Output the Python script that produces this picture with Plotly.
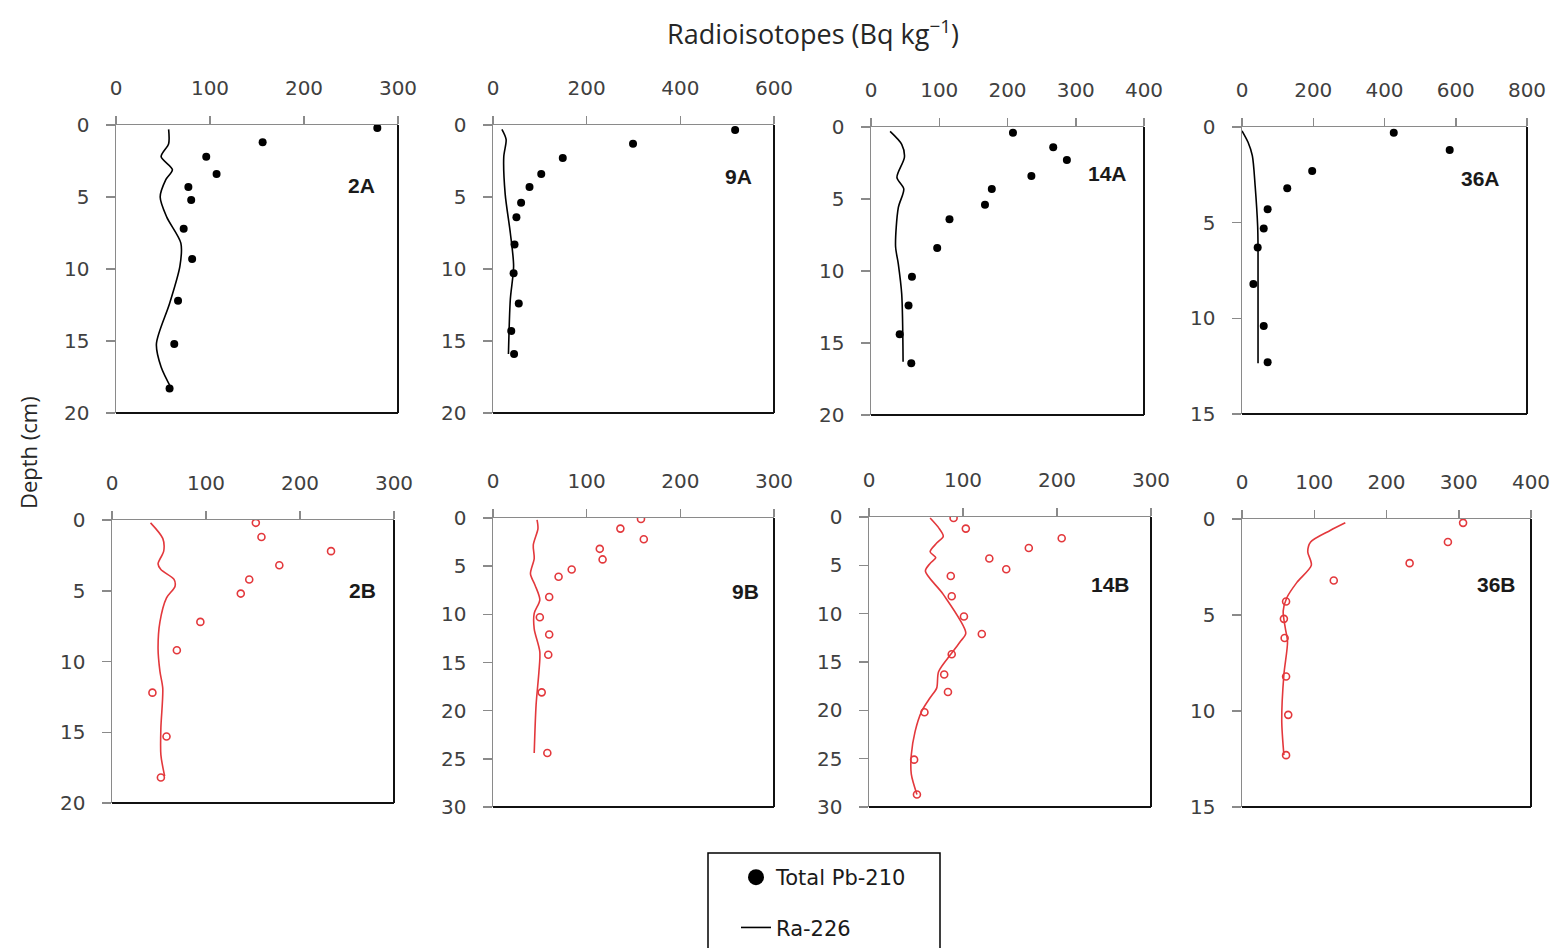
import plotly.graph_objects as go

# ---------------- data ----------------
panel_names = ["2A", "9A", "14A", "36A", "2B", "9B", "14B", "36B"]

x_max = [300, 600, 400, 800, 300, 300, 300, 400]
x_dtick = [100, 200, 100, 200, 100, 100, 100, 100]
depth_max = [20, 20, 20, 15, 20, 30, 30, 15]

# Total Pb-210
pb_2A_depth = [0.2, 1.2, 2.2, 3.4, 4.3, 5.2, 7.2, 9.3, 12.2, 15.2, 18.3]
pb_2A = [278, 156, 96, 107, 77, 80, 72, 81, 66, 62, 57]
pb_9A_depth = [0.35, 1.3, 2.3, 3.4, 4.3, 5.4, 6.4, 8.3, 10.3, 12.4, 14.3, 15.9]
pb_9A = [517, 299, 149, 103, 78, 60, 50, 46, 44, 55, 39, 45]
pb_14A_depth = [0.4, 1.4, 2.3, 3.4, 4.3, 5.4, 6.4, 8.4, 10.4, 12.4, 14.4, 16.4]
pb_14A = [208, 267, 287, 235, 177, 167, 115, 97, 60, 55, 42, 59]
pb_36A_depth = [0.3, 1.2, 2.3, 3.2, 4.3, 5.3, 6.3, 8.2, 10.4, 12.3]
pb_36A = [426, 583, 197, 127, 72, 61, 44, 32, 61, 72]
pb_2B_depth = [0.2, 1.2, 2.2, 3.2, 4.2, 5.2, 7.2, 9.2, 12.2, 15.3, 18.2]
pb_2B = [153, 159, 233, 178, 146, 137, 94, 69, 43, 58, 52]
pb_9B_depth = [0.1, 1.1, 2.2, 3.2, 4.3, 5.35, 6.1, 8.2, 10.3, 12.1, 14.2, 18.1, 24.4]
pb_9B = [158, 136, 161, 114, 117, 84, 70, 60, 50, 60, 59, 52, 58]
pb_14B_depth = [0.1, 1.2, 2.2, 3.2, 4.3, 5.4, 6.1, 8.2, 10.3, 12.1, 14.2, 16.3, 18.1, 20.2, 25.1, 28.7]
pb_14B = [90, 103, 205, 170, 128, 146, 87, 88, 101, 120, 88, 80, 84, 59, 48, 51]
pb_36B_depth = [0.2, 1.2, 2.3, 3.2, 4.3, 5.2, 6.2, 8.2, 10.2, 12.3]
pb_36B = [306, 285, 232, 127, 61, 58, 59, 61, 64, 61]

# Ra-226
ra_2A_depth = [0.3, 1.3, 2.2, 3.1, 3.8, 5.0, 6.4, 8.2, 9.8, 12.4, 15.2, 16.8, 18.3]
ra_2A = [56, 56, 48, 60, 53, 47, 54, 69, 68, 57, 43, 48, 59]
ra_9A_depth = [0.3, 1.0, 2.2, 4.8, 7.5, 9.8, 12.1, 15.9]
ra_9A = [19, 28, 23, 26, 37, 44, 37, 33]
ra_14A_depth = [0.3, 1.2, 2.1, 3.5, 4.3, 5.6, 8.3, 9.5, 11.6, 16.3]
ra_14A = [28, 45, 49, 38, 48, 40, 36, 40, 45, 47]
ra_36A_depth = [0.2, 0.8, 1.5, 3.1, 5.2, 6.3, 12.35]
ra_36A = [0, 17, 29, 37, 44, 45, 45]
ra_2B_depth = [0.2, 1.3, 2.2, 3.1, 3.5, 4.2, 4.7, 5.5, 7.2, 9.1, 10.7, 11.9, 14.7, 16.6, 18.1]
ra_2B = [41, 54, 55, 49, 52, 66, 67, 58, 51, 49, 51, 54, 52, 52, 56]
ra_9B_depth = [0.2, 1.1, 2.8, 4.2, 5.8, 7.0, 8.5, 9.9, 11.5, 13.9, 16.0, 19.4, 24.4]
ra_9B = [47, 48, 43, 44, 40, 45, 50, 44, 44, 50, 49, 46, 44]
ra_14B_depth = [0.1, 1.1, 2.0, 2.7, 3.6, 4.2, 4.8, 5.6, 8.0, 12.0, 12.9, 14.2, 16.0, 17.7, 18.7, 20.1, 22.2, 24.6, 26.6, 28.7]
ra_14B = [65, 74, 79, 72, 65, 71, 65, 60, 79, 103, 97, 87, 74, 72, 65, 56, 49, 45, 45, 51]
ra_36B_depth = [0.2, 0.6, 1.2, 1.7, 2.4, 3.3, 4.1, 4.8, 5.7, 6.4, 8.1, 10.5, 12.3]
ra_36B = [143, 122, 95, 91, 96, 76, 62, 57, 60, 63, 58, 55, 58]

pb_values = [pb_2A, pb_9A, pb_14A, pb_36A, pb_2B, pb_9B, pb_14B, pb_36B]
pb_depths = [pb_2A_depth, pb_9A_depth, pb_14A_depth, pb_36A_depth,
             pb_2B_depth, pb_9B_depth, pb_14B_depth, pb_36B_depth]
ra_values = [ra_2A, ra_9A, ra_14A, ra_36A, ra_2B, ra_9B, ra_14B, ra_36B]
ra_depths = [ra_2A_depth, ra_9A_depth, ra_14A_depth, ra_36A_depth,
             ra_2B_depth, ra_9B_depth, ra_14B_depth, ra_36B_depth]

# ---------------- layout geometry (pixels) ----------------
W, H = 1555, 948
panel_px = [  # x0, x1, y0(top), y1(bottom)
    (116, 398, 125, 413), (493, 774, 125, 413), (871, 1144, 127, 415), (1242, 1527, 127, 414),
    (112, 394, 520, 803), (493, 774, 518, 807), (869, 1151, 517, 807), (1242, 1531, 519, 807),
]
label_pos = [(0.872, 0.79), (0.875, 0.82), (0.868, 0.84), (0.838, 0.822),
             (0.887, 0.75), (0.897, 0.747), (0.855, 0.766), (0.879, 0.771)]

BLACK = "#000000"
RED = "#e3383c"
AXIS_GRAY = "#8a8a8a"
TICK_FONT = dict(family="DejaVu Sans", size=20, color="#404040")

fig = go.Figure()
layout = dict(
    width=W, height=H, margin=dict(l=0, r=0, t=0, b=0, autoexpand=False),
    paper_bgcolor="white", plot_bgcolor="white", showlegend=True,
)
annotations = []
shapes = []

for i in range(8):
    n = "" if i == 0 else str(i + 1)
    color = BLACK if i < 4 else RED
    x0, x1, y0, y1 = panel_px[i]
    layout["xaxis" + n] = dict(
        domain=[x0 / W, x1 / W], anchor="y" + n, side="top",
        range=[0, x_max[i]], dtick=x_dtick[i], tick0=0,
        showgrid=False, zeroline=False, showline=True,
        linecolor=AXIS_GRAY, linewidth=1.5,
        ticks="outside", ticklen=8, tickwidth=1.5, tickcolor=AXIS_GRAY,
        tickfont=TICK_FONT, ticklabelstandoff=13, fixedrange=True, automargin=False,
    )
    layout["yaxis" + n] = dict(
        domain=[1 - y1 / H, 1 - y0 / H], anchor="x" + n,
        range=[depth_max[i], 0], dtick=5, tick0=0,
        showgrid=False, zeroline=False, showline=True,
        linecolor=AXIS_GRAY, linewidth=1.5,
        ticks="outside", ticklen=9, tickwidth=1.5, tickcolor=AXIS_GRAY,
        tickfont=TICK_FONT, ticklabelstandoff=12, fixedrange=True, automargin=False,
    )
    # Ra-226 line
    fig.add_trace(go.Scatter(
        x=ra_values[i], y=ra_depths[i], mode="lines",
        line=dict(color=color, width=1.6, shape="spline", smoothing=0.8),
        xaxis="x" + n, yaxis="y" + n, showlegend=False, hoverinfo="skip",
    ))
    # Total Pb-210 points
    if i < 4:
        marker = dict(symbol="circle", size=8, color=BLACK)
    else:
        marker = dict(symbol="circle-open", size=7, color=RED, line=dict(width=1.6, color=RED))
    fig.add_trace(go.Scatter(
        x=pb_values[i], y=pb_depths[i], mode="markers", marker=marker,
        xaxis="x" + n, yaxis="y" + n, showlegend=False, hoverinfo="skip",
    ))
    # panel label
    annotations.append(dict(
        text="<b>%s</b>" % panel_names[i], xref="x%s domain" % n, yref="y%s domain" % n,
        x=label_pos[i][0], y=label_pos[i][1], xanchor="center", yanchor="middle",
        showarrow=False,
        font=dict(family="Liberation Sans", size=21, color="#1a1a1a"),
    ))
    # right and bottom borders (black)
    shapes.append(dict(type="line", xref="x%s domain" % n, yref="y%s domain" % n,
                       x0=0, x1=1, y0=0, y1=0, line=dict(color="#111111", width=2)))
    shapes.append(dict(type="line", xref="x%s domain" % n, yref="y%s domain" % n,
                       x0=1, x1=1, y0=0, y1=1, line=dict(color="#111111", width=2)))

# legend-only entries
fig.add_trace(go.Scatter(x=[None], y=[None], mode="markers", name="Total Pb-210",
                         marker=dict(symbol="circle", size=16, color=BLACK),
                         legendgroup="pb", showlegend=True))
fig.add_trace(go.Scatter(x=[None], y=[None], mode="lines", name="Ra-226",
                         line=dict(color=BLACK, width=1.6),
                         legendgroup="ra", showlegend=True))

# legend frame (runs off the bottom of the page, as in the reference)
shapes.append(dict(type="rect", xref="paper", yref="paper",
                   x0=708 / W, x1=940 / W, y0=-0.05, y1=1 - 853 / H,
                   line=dict(color="#000000", width=1.5), fillcolor="rgba(0,0,0,0)"))

annotations.append(dict(
    text="Radioisotopes (Bq kg<sup>−1</sup>)", xref="paper", yref="paper",
    x=813 / W, y=1 - 32 / H, xanchor="center", yanchor="middle", showarrow=False,
    font=dict(family="Open Sans", size=27, color="#262626"),
))
annotations.append(dict(
    text="Depth (cm)", xref="paper", yref="paper", textangle=-90,
    x=28 / W, y=1 - 453 / H, xanchor="center", yanchor="middle", showarrow=False,
    font=dict(family="Open Sans", size=22, color="#262626"),
))

layout["annotations"] = annotations
layout["shapes"] = shapes
layout["legend"] = dict(
    x=736 / W, xanchor="left", y=1 - 857 / H, yanchor="top",
    borderwidth=0, bgcolor="rgba(0,0,0,0)",
    font=dict(family="DejaVu Sans", size=21, color="#1a1a1a"),
    traceorder="grouped", tracegroupgap=20,
)
fig.update_layout(**layout)
fig.write_html("out.html",
               config={"displayModeBar": False, "staticPlot": True},
               post_script="document.body.style.margin='0';document.body.style.overflow='hidden';")
